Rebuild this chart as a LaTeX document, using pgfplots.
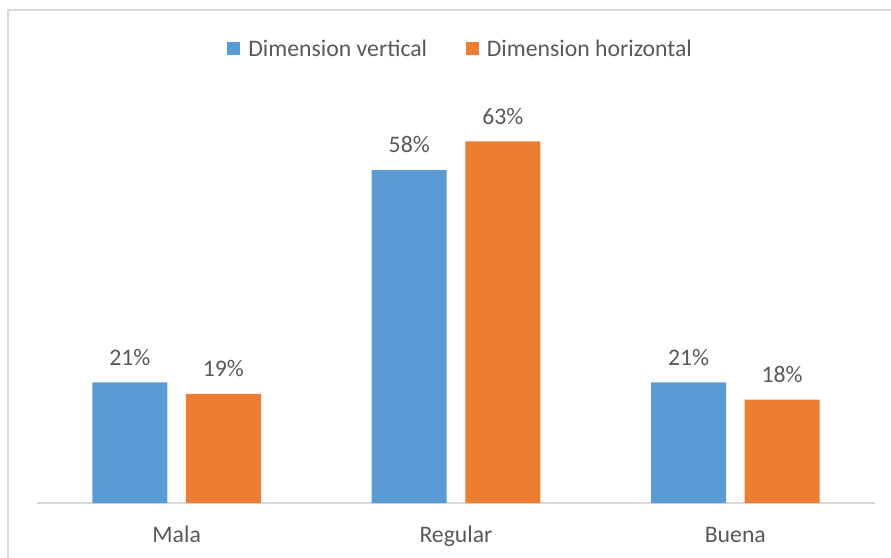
\documentclass[border=0pt]{standalone}
\usepackage{pgfplots}
\pgfplotsset{compat=1.18}
\usepackage{fontspec}
\setmainfont{Carlito}
\definecolor{cblue}{HTML}{5B9BD5}
\definecolor{corange}{HTML}{ED7D31}
\definecolor{ctext}{HTML}{595959}
\definecolor{cgrid}{HTML}{D9D9D9}
\begin{document}
\begin{tikzpicture}
\useasboundingbox (-27.75pt,-40.5pt) rectangle (640.5pt,377.25pt);
\draw[cgrid, line width=1.2pt] (-21.75pt,-80pt) rectangle (700pt,369.75pt);
\begin{axis}[
  at={(0pt,0pt)}, anchor=south west,
  scale only axis,
  width=628.5pt, height=344.4pt,
  ymin=0, ymax=80,
  xmin=-0.5, xmax=2.5,
  ybar=13.9pt, bar width=56.25pt,
  axis y line=none,
  axis x line=bottom,
  x axis line style={-, cgrid, line width=1.2pt},
  xtick={0,1,2},
  xticklabels={Mala,Regular,Buena},
  major tick length=0pt,
  /pgf/number format/assume math mode=true,
  xticklabel style={anchor=base, yshift=-29.5pt, font=\fontsize{17.8}{19}\selectfont, text=ctext},
  nodes near coords={\pgfmathprintnumber{\pgfplotspointmeta}\%},
  nodes near coords style={anchor=base, yshift=13pt, font=\fontsize{17.8}{19}\selectfont, text=ctext},
  legend columns=2,
  legend style={at={(0.506,0.989)}, anchor=center, draw=none, fill=none,
    font=\fontsize{17.8}{19}\selectfont, text=ctext,
    /tikz/every odd column/.append style={column sep=4pt},
    /tikz/every even column/.append style={column sep=27pt}},
  legend image code/.code={\fill[#1] (0pt,-4.9pt) rectangle (9.75pt,4.9pt);},
  clip=false,
]
\addplot[fill=cblue, draw=none] coordinates {(0,21) (1,58) (2,21)};
\addplot[fill=corange, draw=none] coordinates {(0,19) (1,63) (2,18)};
\legend{Dimension vertical, Dimension horizontal}
\end{axis}
\end{tikzpicture}
\end{document}
